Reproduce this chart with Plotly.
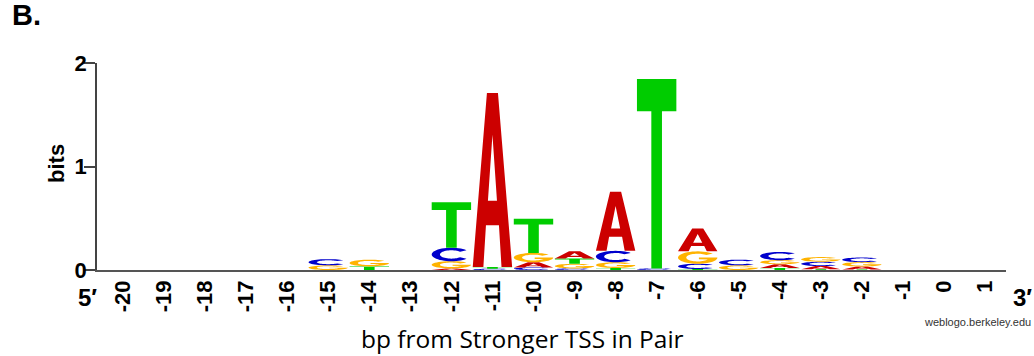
import numpy as np
import plotly.graph_objects as go

# ---------------- data (bits per nucleotide at each position) ----------------
positions = list(range(-20, 2))
tick_labels = [str(p) for p in positions]
#            -20 -19 -18 -17 -16  -15    -14    -13  -12    -11    -10    -9     -8     -7     -6     -5     -4     -3     -2    -1   0   1
bits_A = [0, 0, 0, 0, 0, 0.0,   0.0,   0, 0.015, 1.68,  0.05,  0.07,  0.57,  0.0,   0.22,  0.0,   0.035, 0.03,  0.028, 0, 0, 0]
bits_C = [0, 0, 0, 0, 0, 0.06,  0.0,   0, 0.13,  0.012, 0.025, 0.015, 0.11,  0.015, 0.05,  0.055, 0.08,  0.042, 0.045, 0, 0, 0]
bits_G = [0, 0, 0, 0, 0, 0.045, 0.065, 0, 0.07,  0.0,   0.09,  0.045, 0.055, 0.0,   0.12,  0.045, 0.04,  0.045, 0.042, 0, 0, 0]
bits_T = [0, 0, 0, 0, 0, 0.0,   0.035, 0, 0.44,  0.018, 0.33,  0.05,  0.02,  1.83,  0.01,  0.0,   0.02,  0.008, 0.006, 0, 0, 0]

letters = ["A", "C", "G", "T"]
letter_colors = {"A": "#CC0000", "C": "#0000CC", "G": "#FFB300", "T": "#00CC00"}

# ---------------- glyph outlines in a unit box ----------------
def arc(rx, ry, a0, a1, n=40):
    t = np.radians(np.linspace(a0, a1, n))
    return [(0.5 + rx * np.cos(a), 0.5 + ry * np.sin(a)) for a in t]

GLYPHS = {
    "T": [[(0, 1), (1, 1), (1, 0.83), (0.635, 0.83), (0.635, 0), (0.365, 0), (0.365, 0.83), (0, 0.83)]],
    "A": [[(0, 0), (0.36, 1), (0.64, 1), (1, 0), (0.73, 0), (0.665, 0.24), (0.335, 0.24), (0.27, 0)],
          [(0.385, 0.38), (0.615, 0.38), (0.5, 0.76)]],
    "C": [arc(0.5, 0.5, 40, 320) + arc(0.29, 0.31, 320, 40)],
    "G": [arc(0.5, 0.5, 40, 360) + [(0.53, 0.5), (0.53, 0.36)] + arc(0.29, 0.31, -28, -320)],
}

def glyph_path(letter, xc, y0, w, h):
    parts = []
    for poly in GLYPHS[letter]:
        pts = [(xc - w / 2 + u * w, y0 + v * h) for u, v in poly]
        parts.append("M " + " L ".join(f"{x:.4f},{y:.5f}" for x, y in pts) + " Z")
    return " ".join(parts)

series = {"A": bits_A, "C": bits_C, "G": bits_G, "T": bits_T}
LETTER_W = 0.96

shapes = []
for i, pos in enumerate(positions):
    stack = sorted([(series[l][i], l) for l in letters if series[l][i] > 0])
    base = 0.0
    for h, l in stack:
        shapes.append(dict(type="path", xref="x", yref="y",
                           path=glyph_path(l, pos, base, LETTER_W, h),
                           fillcolor=letter_colors[l], fillrule="evenodd",
                           line=dict(width=0), layer="above"))
        base += h

totals = [sum(series[l][i] for l in letters) for i in range(len(positions))]

fig = go.Figure()
fig.add_trace(go.Scatter(x=positions, y=totals, mode="markers",
                         marker=dict(opacity=0), showlegend=False,
                         hovertemplate="pos %{x}: %{y:.2f} bits<extra></extra>"))

W, H = 1034, 356
L, R, T, B = 97, 28, 63, 86
pw, ph = W - L - R, H - T - B

def px(xp):
    return (xp - L) / pw

def py(yp):
    return (H - B - yp) / ph

tick_font = dict(family="Liberation Sans, Arial, sans-serif", size=22, color="#000", weight="bold")
annotations = [
    dict(text="B.", x=px(10), y=py(-3), xanchor="left", yanchor="top",
         font=dict(family="Liberation Sans, Arial", size=29, color="#000", weight="bold")),
    dict(text="bits", x=px(56), y=py(164), textangle=-90, xanchor="center", yanchor="middle",
         font=dict(family="Liberation Sans, Arial", size=22, color="#000", weight="bold")),
    dict(text="5′", x=px(87), y=py(297), xanchor="center", yanchor="middle",
         font=dict(family="Liberation Sans, Arial", size=24, color="#000", weight="bold")),
    dict(text="3′", x=px(1034), y=py(297), xanchor="right", yanchor="middle",
         font=dict(family="Liberation Sans, Arial", size=24, color="#000", weight="bold")),
    dict(text="weblogo.berkeley.edu", x=px(1033), y=py(322), xanchor="right", yanchor="middle",
         font=dict(family="Liberation Sans, Arial", size=11, color="#333")),
    dict(text="bp from Stronger TSS in Pair", x=px(522), y=py(338), xanchor="center", yanchor="middle",
         font=dict(family="Open Sans, sans-serif", size=24.5, color="#000")),
]
for a in annotations:
    a.update(xref="paper", yref="paper", showarrow=False)

fig.update_layout(
    width=W, height=H,
    margin=dict(l=L, r=R, t=T, b=B, pad=0),
    paper_bgcolor="white", plot_bgcolor="white",
    shapes=shapes, annotations=annotations,
    showlegend=False,
    xaxis=dict(range=[-20.633, 1.51], tickmode="array", tickvals=positions, ticktext=tick_labels,
               tickangle=-90, ticks="", showline=True, linecolor="#555", linewidth=1.5,
               showgrid=False, zeroline=False, tickfont=tick_font, ticklabelstandoff=0,
               fixedrange=True),
    yaxis=dict(range=[0, 2], tickmode="array", tickvals=[0, 1, 2], ticktext=["0", "1", "2"],
               ticks="outside", ticklen=11, tickwidth=1.5, tickcolor="#444",
               showline=True, linecolor="#444", linewidth=1.5,
               showgrid=False, zeroline=False, tickfont=tick_font, ticklabelstandoff=-7,
               fixedrange=True),
)

fig.write_html("out.html")
